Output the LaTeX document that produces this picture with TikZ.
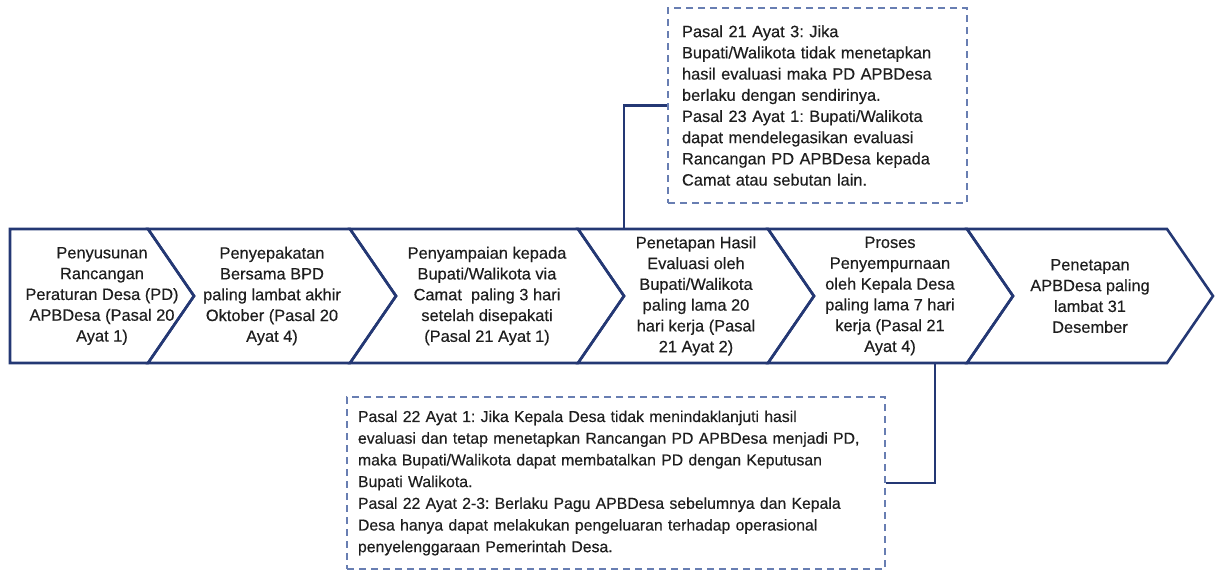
\documentclass[tikz,border=0pt]{standalone}
\usepackage{xcolor}
\usepackage{fontspec}
\setmainfont{Liberation Sans}[FakeBold=0.4]
\usepackage{tikz}
\usetikzlibrary{positioning, calc}
\definecolor{mynavy}{RGB}{36,56,116}
\definecolor{mydash}{RGB}{104,126,178}
\definecolor{mytext}{RGB}{30,30,30}
\tikzset{
  chev/.style={draw=mynavy, line width=2.6pt, line join=miter},
  steptext/.style={align=center, inner sep=0pt, text=mytext,
    font=\fontsize{16.4}{20.8}\selectfont},
  notebox/.style={rectangle, draw=mydash, dash pattern=on 7pt off 5pt,
    line width=1.8pt, align=left, inner ysep=0pt, text=mytext},
  link/.style={draw=mynavy, line width=2.2pt}
}
\frenchspacing

\begin{document}
\begin{tikzpicture}[x=1pt, y=-1pt]
  \useasboundingbox (0,0) rectangle (1216,570);

  % Row of chevrons
  \draw[chev] (10,229) -- (148,229) -- (194,296) -- (148,363) -- (10,363) -- cycle;
  \draw[chev] (148,229) -- (350,229) -- (396,296) -- (350,363) -- (148,363) -- (194,296) -- cycle;
  \draw[chev] (350,229) -- (578,229) -- (624,296) -- (578,363) -- (350,363) -- (396,296) -- cycle;
  \draw[chev] (578,229) -- (768,229) -- (814,296) -- (768,363) -- (578,363) -- (624,296) -- cycle;
  \draw[chev] (768,229) -- (967,229) -- (1013,296) -- (967,363) -- (768,363) -- (814,296) -- cycle;
  \draw[chev] (967,229) -- (1167,229) -- (1213,296) -- (1167,363) -- (967,363) -- (1013,296) -- cycle;

  % Chevron texts
  \node[steptext] (susun) at (102,296) {Penyusunan\\Rancangan\\Peraturan Desa (PD)\\APBDesa (Pasal 20\\Ayat 1)};
  \node[steptext] (sepakat) at (272,296) {Penyepakatan\\Bersama BPD\\paling lambat akhir\\Oktober (Pasal 20\\Ayat 4)};
  \node[steptext] (sampai) at (487,296) {Penyampaian kepada\\Bupati/Walikota via\\Camat~~paling 3 hari\\setelah disepakati\\(Pasal 21 Ayat 1)};
  \node[steptext] (evaluasi) at (696,296) {Penetapan Hasil\\Evaluasi oleh\\Bupati/Walikota\\paling lama 20\\hari kerja (Pasal\\21 Ayat 2)};
  \node[steptext] (sempurna) at (890,296) {Proses\\Penyempurnaan\\oleh Kepala Desa\\paling lama 7 hari\\kerja (Pasal 21\\Ayat 4)};
  \node[steptext] (tetap) at (1090,296) {Penetapan\\APBDesa paling\\lambat 31\\Desember};

  % Note boxes
  \node[notebox, text width=271pt, inner xsep=14pt, minimum height=195pt,
    font=\fontsize{16.4}{21.2}\selectfont] (evalnote) at (817.5,105.5)
    {Pasal 21 Ayat 3: Jika\\Bupati/Walikota tidak menetapkan\\hasil evaluasi maka PD APBDesa\\berlaku dengan sendirinya.\\Pasal 23 Ayat 1: Bupati/Walikota\\dapat mendelegasikan evaluasi\\Rancangan PD APBDesa kepada\\Camat atau sebutan lain.};
  \node[notebox, text width=516pt, inner xsep=11pt, minimum height=172pt,
    font=\fontsize{15.8}{21.7}\selectfont] (cancelnote) at (616,483)
    {Pasal 22 Ayat 1: Jika Kepala Desa tidak menindaklanjuti hasil\\evaluasi dan tetap menetapkan Rancangan PD APBDesa menjadi PD,\\maka Bupati/Walikota dapat membatalkan PD dengan Keputusan\\Bupati Walikota.\\Pasal 22 Ayat 2-3: Berlaku Pagu APBDesa sebelumnya dan Kepala\\Desa hanya dapat melakukan pengeluaran terhadap operasional\\penyelenggaraan Pemerintah Desa.};

  % Connectors
  \coordinate (uptap) at (624,229);
  \coordinate (downtap) at (935,363);
  \draw[link] (uptap) |- (evalnote.west);
  \draw[link] (downtap) |- (cancelnote.east);
\end{tikzpicture}
\end{document}
